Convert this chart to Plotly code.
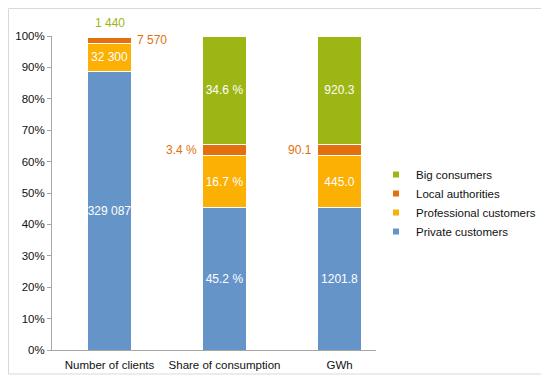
import plotly.graph_objects as go

categories = ["Number of clients", "Share of consumption", "GWh"]
series = ["Private customers", "Professional customers", "Local authorities", "Big consumers"]

private = [329087, 45.2, 1201.8]
professional = [32300, 16.7, 445.0]
local = [7570, 3.4, 90.1]
big = [1440, 34.6, 920.3]

colors = ["#6594C9", "#FBB003", "#E2700D", "#9DB614"]


def fmt(v, i):
    if i == 0:
        return f"{v:,}".replace(",", " ")
    if i == 1:
        return f"{v} %"
    return f"{v:.1f}"


values = [private, professional, local, big]
# labels drawn inside the bars (False -> drawn outside as annotation)
inside = [
    [True, True, True],
    [True, True, True],
    [False, False, False],
    [False, True, True],
]

fig = go.Figure()
for s, name in enumerate(series):
    txt = [fmt(v, i) if inside[s][i] else "" for i, v in enumerate(values[s])]
    fig.add_trace(go.Bar(
        x=categories, y=values[s], name=name, showlegend=False,
        marker=dict(color=colors[s], line=dict(color="white", width=1)),
        text=txt, textposition="inside", insidetextanchor="middle", textangle=0,
        constraintext="none",
        textfont=dict(color="white", size=12), width=0.39,
        hoverinfo="skip",
    ))

# legend entries with small square markers
for s in range(3, -1, -1):
    fig.add_trace(go.Scatter(
        x=[None], y=[None], mode="markers", name=series[s],
        marker=dict(symbol="square", size=6, color=colors[s]),
    ))

# cumulative percentages for placing outside labels
totals = [sum(v[i] for v in values) for i in range(3)]
def pct(s, i):
    return values[s][i] / totals[i] * 100
def base(s, i):
    return sum(pct(k, i) for k in range(s))

annos = []
annos.append(dict(x=0.195, y=base(2, 0) + pct(2, 0) / 2, xref="x", yref="y",
                  text=fmt(local[0], 0), showarrow=False, xanchor="left", xshift=3,
                  font=dict(color="#E2700D", size=12)))
for i in (1, 2):
    annos.append(dict(x=i - 0.195, y=base(2, i) + pct(2, i) / 2, xref="x", yref="y",
                      text=fmt(local[i], i), showarrow=False, xanchor="right", xshift=-3,
                      font=dict(color="#E2700D", size=12)))
annos.append(dict(x=0, y=100, xref="x", yref="y", text=fmt(big[0], 0), showarrow=False,
                  yanchor="bottom", yshift=4, font=dict(color="#9DB614", size=12)))

# page body adds an 8px offset, so the figure is a bit smaller than the window
W, H = 541, 372
L, R, T, B = 44, 173, 28, 30
pw, ph = W - L - R, H - T - B

fig.update_layout(
    width=W, height=H,
    barmode="stack", barnorm="percent",
    margin=dict(l=L, r=R, t=T, b=B, autoexpand=False),
    paper_bgcolor="white", plot_bgcolor="white",
    font=dict(family="Liberation Sans, Arial, sans-serif", size=11.5, color="#111"),
    xaxis=dict(range=[-0.5, 2.317], showline=True, linecolor="#A6A6A6",
               ticks="", tickfont=dict(size=11.5), ticklabelstandoff=4, fixedrange=True),
    yaxis=dict(range=[0, 100], dtick=10, ticksuffix="%", showgrid=False,
               showline=True, linecolor="#A6A6A6", ticks="outside", ticklen=4,
               tickcolor="#A6A6A6", tickfont=dict(size=11.5), zeroline=False),
    legend=dict(x=1.0, y=0.605, xanchor="left", yanchor="top", traceorder="normal",
                font=dict(size=11.5), bgcolor="rgba(0,0,0,0)", tracegroupgap=0),
    annotations=annos,
    shapes=[dict(type="rect", xref="paper", yref="paper",
                 x0=(0.5 - L) / pw, x1=(536 - L) / pw,
                 y0=(H - B - 366) / ph, y1=(H - B - 0.5) / ph,
                 line=dict(color="#D9D9D9", width=1))],
)

fig.write_html("out.html")
